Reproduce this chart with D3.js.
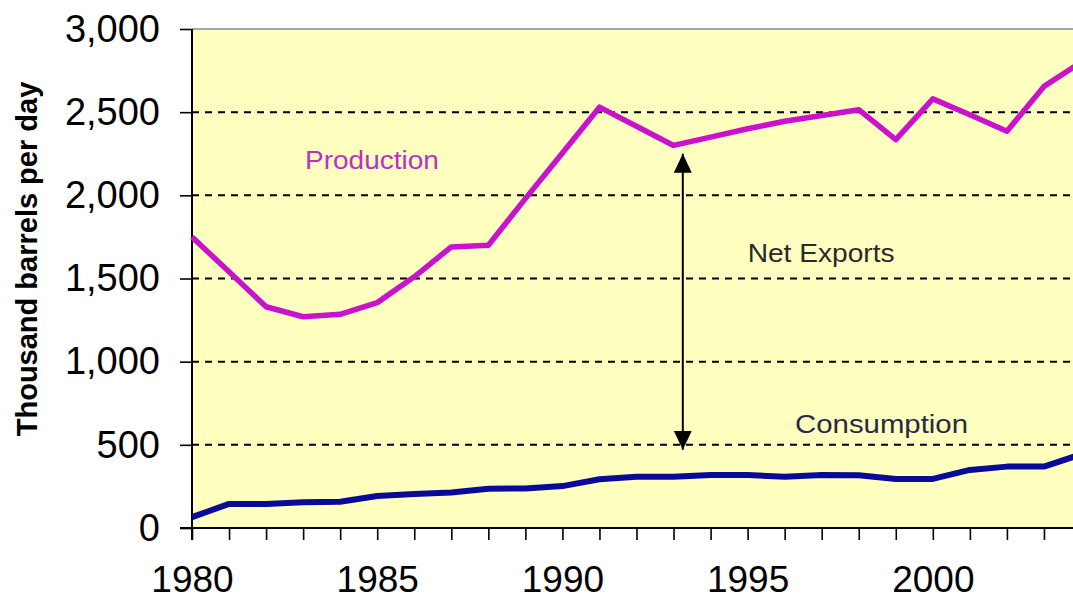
<!DOCTYPE html>
<html>
<head>
<meta charset="utf-8">
<script src="https://cdn.jsdelivr.net/npm/d3@7"></script>
<style>
  body { margin: 0; background: #fff; }
  svg text { font-family: "Liberation Sans", Arial, sans-serif; }
</style>
</head>
<body>
<div id="chart"></div>
<script>
// years, series and tick labels
var years = [1980, 1981, 1982, 1983, 1984, 1985, 1986, 1987, 1988, 1989, 1990, 1991, 1992,
             1993, 1994, 1995, 1996, 1997, 1998, 1999, 2000, 2001, 2002, 2003, 2004];
var production = [1750, 1540, 1330, 1270, 1285, 1355, 1510, 1690, 1700, 1980, 2255, 2530, 2415,
                  2300, 2350, 2400, 2445, 2480, 2515, 2335, 2580, 2485, 2385, 2655, 2800];
var consumption = [65, 145, 145, 155, 158, 192, 204, 214, 236, 238, 252, 293, 308,
                   308, 319, 319, 308, 319, 317, 295, 295, 349, 369, 369, 443];
var yTicks = [0, 500, 1000, 1500, 2000, 2500, 3000];
var xLabels = [1980, 1985, 1990, 1995, 2000];
var yTitle = "Thousand barrels per day";

var width = 1073,
    height = 604;

var x = d3.scaleLinear().domain([1980, 2004]).range([192, 1081]);
var y = d3.scaleLinear().domain([0, 3000]).range([528, 29]);

var svg = d3.select("#chart").append("svg")
    .attr("width", width)
    .attr("height", height);

svg.append("defs").append("marker")
    .attr("id", "head")
    .attr("viewBox", "0 0 10 10")
    .attr("refX", 10).attr("refY", 5)
    .attr("markerWidth", 19).attr("markerHeight", 18)
    .attr("markerUnits", "userSpaceOnUse")
    .attr("orient", "auto-start-reverse")
    .attr("preserveAspectRatio", "none")
  .append("path")
    .attr("d", "M0,0 L10,5 L0,10 Z")
    .attr("fill", "#000");

// plot area
svg.append("rect")
    .attr("x", x(1980)).attr("y", y(3000))
    .attr("width", x(2004) - x(1980) + 10)
    .attr("height", y(0) - y(3000))
    .attr("fill", "#ffffc0");

// grid lines
svg.selectAll(".grid")
    .data(yTicks.filter(function(d) { return d > 0 && d < 3000; }))
  .enter().append("line")
    .attr("x1", x(1980)).attr("x2", width)
    .attr("y1", function(d) { return y(d); })
    .attr("y2", function(d) { return y(d); })
    .attr("stroke", "#000")
    .attr("stroke-width", 2)
    .attr("stroke-dasharray", "7,6");

svg.append("line")
    .attr("x1", x(1980)).attr("x2", width)
    .attr("y1", y(3000)).attr("y2", y(3000))
    .attr("stroke", "#888").attr("stroke-width", 1.5);

// y axis
var yAxis = svg.append("g")
    .attr("transform", "translate(" + x(1980) + ",0)")
    .call(d3.axisLeft(y).tickValues(yTicks).tickSize(12).tickPadding(20)
      .tickFormat(d3.format(",")));
yAxis.select(".domain").remove();
yAxis.selectAll(".tick line").attr("stroke", "#000").attr("stroke-width", 1.6);
yAxis.selectAll("text").attr("font-size", 38).attr("fill", "#000");
svg.append("line")
    .attr("x1", x(1980)).attr("x2", x(1980))
    .attr("y1", y(3000)).attr("y2", y(0) + 12)
    .attr("stroke", "#000").attr("stroke-width", 2);

// x axis
var xAxis = svg.append("g")
    .attr("transform", "translate(0," + y(0) + ")")
    .call(d3.axisBottom(x).tickValues(years).tickSize(12).tickPadding(26)
      .tickFormat(function(d) { return xLabels.indexOf(d) >= 0 ? d : ""; }));
xAxis.select(".domain").remove();
xAxis.selectAll(".tick line").attr("stroke", "#000").attr("stroke-width", 1.6);
xAxis.selectAll("text").attr("font-size", 37).attr("fill", "#000");
svg.append("line")
    .attr("x1", x(1980) - 12).attr("x2", width)
    .attr("y1", y(0)).attr("y2", y(0))
    .attr("stroke", "#000").attr("stroke-width", 2);

svg.append("text")
    .attr("transform", "translate(37," + 259 + ") rotate(-90)")
    .attr("text-anchor", "middle")
    .attr("font-size", 29)
    .attr("font-weight", "bold")
    .text(yTitle);

// series
var line = d3.line()
    .x(function(d, i) { return x(years[i]); })
    .y(function(d) { return y(d); });

svg.append("path")
    .datum(production)
    .attr("d", line)
    .attr("fill", "none")
    .attr("stroke", "#cc11cc")
    .attr("stroke-width", 5.5)
    .attr("stroke-linejoin", "round");

svg.append("path")
    .datum(consumption)
    .attr("d", line)
    .attr("fill", "none")
    .attr("stroke", "#0a0a99")
    .attr("stroke-width", 6)
    .attr("stroke-linejoin", "round");

// net exports arrow
var arrowYear = 1993.25;
svg.append("line")
    .attr("x1", x(arrowYear)).attr("x2", x(arrowYear))
    .attr("y1", y(2250)).attr("y2", y(470))
    .attr("stroke", "#000").attr("stroke-width", 2)
    .attr("marker-start", "url(#head)")
    .attr("marker-end", "url(#head)");

// labels
var labels = [
  { text: "Production", yr: 1983.05, v: 2160, color: "#c030c0", len: 134 },
  { text: "Net Exports", yr: 1995.0, v: 1600, color: "#2a2a2a", len: 147 },
  { text: "Consumption", yr: 1996.28, v: 572, color: "#2a2a44", len: 173 }
];
svg.selectAll(".lbl")
    .data(labels)
  .enter().append("text")
    .attr("x", function(d) { return x(d.yr); })
    .attr("y", function(d) { return y(d.v); })
    .attr("font-size", 26)
    .attr("fill", function(d) { return d.color; })
    .attr("textLength", function(d) { return d.len; })
    .attr("lengthAdjust", "spacingAndGlyphs")
    .text(function(d) { return d.text; });
</script>
</body>
</html>
